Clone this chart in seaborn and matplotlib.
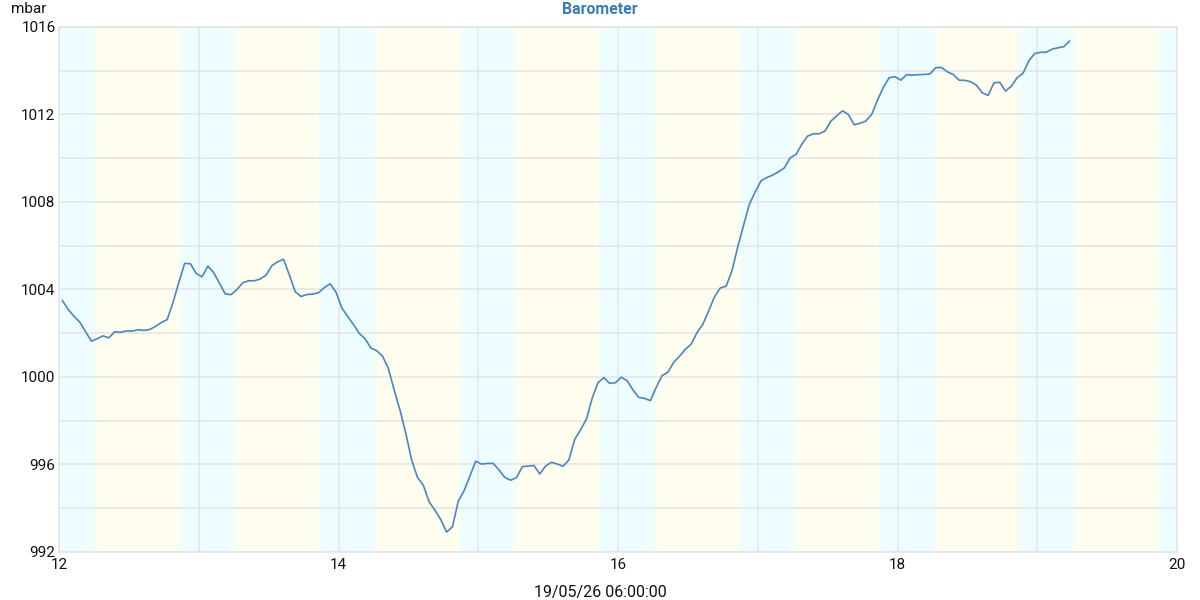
import pandas as pd
import matplotlib.pyplot as plt
import seaborn as sns
from matplotlib.ticker import MultipleLocator

# hourly barometer readings (mbar), first reading at 00:34 on the 12th
pressure = [
    1003.50, 1003.09, 1002.78, 1002.51, 1002.07, 1001.64, 1001.75, 1001.88, 1001.79, 1002.07,
    1002.04, 1002.11, 1002.10, 1002.16, 1002.13, 1002.17, 1002.31, 1002.49, 1002.62, 1003.39,
    1004.31, 1005.19, 1005.18, 1004.73, 1004.58, 1005.07, 1004.77, 1004.28, 1003.79, 1003.77,
    1004.00, 1004.31, 1004.40, 1004.40, 1004.48, 1004.66, 1005.09, 1005.27, 1005.38, 1004.66,
    1003.90, 1003.68, 1003.77, 1003.79, 1003.85, 1004.09, 1004.26, 1003.88, 1003.16, 1002.77,
    1002.40, 1001.99, 1001.75, 1001.32, 1001.20, 1000.95, 1000.39, 999.40, 998.48, 997.42,
    996.20, 995.41, 995.05, 994.29, 993.91, 993.48, 992.91, 993.15, 994.32, 994.80,
    995.48, 996.15, 996.02, 996.05, 996.05, 995.75, 995.41, 995.28, 995.40, 995.90,
    995.93, 995.95, 995.57, 995.93, 996.10, 996.02, 995.92, 996.21, 997.15, 997.58,
    998.07, 999.03, 999.74, 999.97, 999.71, 999.74, 999.99, 999.83, 999.41, 999.07,
    999.02, 998.92, 999.53, 1000.06, 1000.22, 1000.67, 1000.95, 1001.27, 1001.50, 1002.03,
    1002.41, 1003.02, 1003.66, 1004.07, 1004.15, 1004.85, 1005.95, 1006.94, 1007.90, 1008.46,
    1008.97, 1009.12, 1009.23, 1009.38, 1009.56, 1010.02, 1010.17, 1010.64, 1011.01, 1011.12,
    1011.12, 1011.25, 1011.70, 1011.94, 1012.17, 1012.00, 1011.53, 1011.60, 1011.70, 1012.00,
    1012.66, 1013.24, 1013.68, 1013.73, 1013.57, 1013.82, 1013.80, 1013.82, 1013.83, 1013.85,
    1014.14, 1014.15, 1013.95, 1013.83, 1013.57, 1013.56, 1013.50, 1013.34, 1012.99, 1012.87,
    1013.45, 1013.47, 1013.07, 1013.30, 1013.69, 1013.89, 1014.46, 1014.79, 1014.84, 1014.85,
    1014.99, 1015.05, 1015.10, 1015.36,
]
start_day = 12 + 34 / 1440

# day / night shading (day of month + fraction)
sunrise = [12.258, 13.259, 14.261, 15.263, 16.265, 17.267, 18.268, 19.270]
sunset = [12.866, 13.866, 14.867, 15.867, 16.868, 17.869, 18.870, 19.871]

x_min, x_max = 12, 20
y_min, y_max = 992, 1016

df = pd.DataFrame({'day': [start_day + i / 24 for i in range(len(pressure))],
                   'mbar': pressure})

sns.set_style('white')
plt.rcParams['font.family'] = ['Roboto', 'DejaVu Sans']

fig = plt.figure(figsize=(12, 6), dpi=100)
ax = fig.add_axes([59 / 1200, 1 - 552 / 600, 1118 / 1200, 525 / 600])

night_col = '#eefdff'
day_col = '#fffdee'
mix_col = '#f5fef4'

# night / day bands
edges = [x_min]
for r, s in zip(sunrise, sunset):
    edges += [r, s]
edges.append(x_max)
for i in range(len(edges) - 1):
    col = night_col if i % 2 == 0 else day_col
    ax.axvspan(edges[i], edges[i + 1], color=col, lw=0, zorder=0)
for e in edges[1:-1]:
    ax.axvspan(e - 0.012, e + 0.012, color=mix_col, lw=0, zorder=0)

sns.lineplot(data=df, x='day', y='mbar', ax=ax, color='#4a86c0', lw=1.2, zorder=3)

ax.set_xlim(x_min, x_max)
ax.set_ylim(y_min, y_max)
ax.xaxis.set_major_locator(MultipleLocator(2))
ax.xaxis.set_minor_locator(MultipleLocator(1))
ax.yaxis.set_major_locator(MultipleLocator(4))
ax.yaxis.set_minor_locator(MultipleLocator(2))
ax.grid(which='both', color='#e4e4e8', lw=1.1, zorder=1)
ax.set_axisbelow(True)
ax.tick_params(which='both', length=0, labelsize=11, colors='#111111')
ax.tick_params(axis='x', pad=4)
ax.tick_params(axis='y', pad=2.5)
ax.set_xlabel('')
ax.set_ylabel('')
for sp in ax.spines.values():
    sp.set_color('#e4e4e8')
    sp.set_linewidth(1.1)

fig.text(0.5, 0.985, 'Barometer', ha='center', va='center', fontsize=11.4,
         fontweight='bold', color='#3a7dbe')
fig.text(0.009, 0.985, 'mbar', ha='left', va='center', fontsize=11, color='#111111')
fig.text(0.5, 0.013, '19/05/26 06:00:00', ha='center', va='center', fontsize=11.5,
         color='#111111')

plt.savefig('out.png', dpi=100)
